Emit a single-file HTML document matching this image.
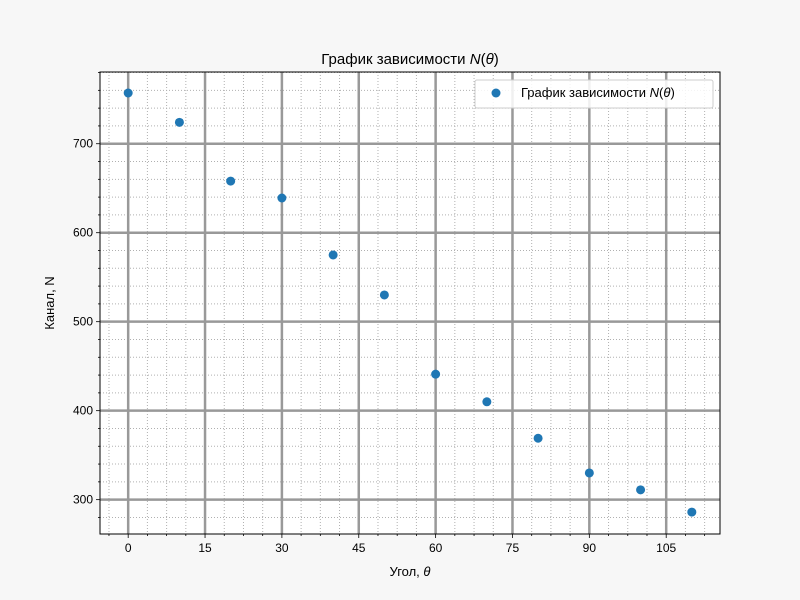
<!DOCTYPE html>
<html><head><meta charset="utf-8"><style>
body{margin:0;background:#f7f7f7;}
svg{display:block;font-family:"Liberation Sans","DejaVu Sans",sans-serif;}
</style></head><body>
<svg id="c" width="800" height="600">
<rect width="800" height="600" fill="#f7f7f7"/>
<rect x="100" y="72" width="620" height="462" fill="#fff"/>
<g id="g"></g>
</svg>
<script>
const angles=[0,10,20,30,40,50,60,70,80,90,100,110];
const channels=[757,724,658,639,575,530,441,410,369,330,311,286];
const xTicks=[0,15,30,45,60,75,90,105];
const yTicks=[300,400,500,600,700];
const L=100,R=720,T=72,B=534,xmin=-5.5,xmax=115.5,ymin=261.4,ymax=780.6;
const X=v=>L+(v-xmin)/(xmax-xmin)*(R-L);
const Y=v=>B-(v-ymin)/(ymax-ymin)*(B-T);
const g=document.getElementById('g');
const NS='http://www.w3.org/2000/svg';
function el(t,a,p){const e=document.createElementNS(NS,t);for(const k in a)e.setAttribute(k,a[k]);(p||g).appendChild(e);return e;}
// minor grid
for(let v=-3.75;v<=115.5;v+=3.75){if(Math.abs(v/15-Math.round(v/15))<1e-6)continue;if(v<xmin)continue;
const e=el('line',{x1:X(v),x2:X(v),y1:T,y2:B,stroke:'#b0b0b0','stroke-width':1,'stroke-dasharray':'1,2'});

el('line',{x1:X(v),x2:X(v),y1:B,y2:B+2,stroke:'#000','stroke-width':0.8});}
for(let v=280;v<=780;v+=20){if(v%100===0)continue;
const e=el('line',{x1:L,x2:R,y1:Y(v),y2:Y(v),stroke:'#b0b0b0','stroke-width':1,'stroke-dasharray':'1,2'});

el('line',{x1:L-2,x2:L,y1:Y(v),y2:Y(v),stroke:'#000','stroke-width':0.8});}
// major grid
xTicks.forEach(v=>{const e=el('line',{x1:X(v),x2:X(v),y1:T,y2:B,stroke:'#999','stroke-width':2.5});

el('line',{x1:X(v),x2:X(v),y1:B,y2:B+4,stroke:'#000','stroke-width':0.8});
const t=el('text',{x:X(v),y:B+18,'text-anchor':'middle','font-size':12});t.textContent=v;
});
yTicks.forEach(v=>{const e=el('line',{x1:L,x2:R,y1:Y(v),y2:Y(v),stroke:'#999','stroke-width':2.5});

el('line',{x1:L-4,x2:L,y1:Y(v),y2:Y(v),stroke:'#000','stroke-width':0.8});
const t=el('text',{x:L-7,y:Y(v)+4,'text-anchor':'end','font-size':12});t.textContent=v;
});
// points
angles.forEach((a,i)=>{const c=el('circle',{cx:X(a),cy:Y(channels[i]),r:4.5,fill:'#1f77b4'});
});
const fr=el('rect',{x:L,y:T,width:R-L,height:B-T,fill:'none',stroke:'#000','stroke-width':1});

</script>
<svg style="position:absolute;left:0;top:0" width="800" height="600">
<text x="410" y="64" text-anchor="middle" font-size="15" font-family="Liberation Sans, DejaVu Sans, sans-serif">График зависимости <tspan font-style="italic">N</tspan>(<tspan font-style="italic">θ</tspan>)</text>
<text x="410" y="576" text-anchor="middle" font-size="13" font-family="Liberation Sans, DejaVu Sans, sans-serif">Угол, <tspan font-style="italic">θ</tspan></text>
<text x="54" y="303" text-anchor="middle" font-size="13" transform="rotate(-90 54 303)" font-family="Liberation Sans, DejaVu Sans, sans-serif">Канал, N</text>
<g>
<rect x="475" y="80" width="238" height="28" rx="2" fill="#fff" fill-opacity="0.85" stroke="#ccc"/>
<circle cx="496" cy="93" r="4.5" fill="#1f77b4"/>
<text x="521" y="97" font-size="13" font-family="Liberation Sans, DejaVu Sans, sans-serif">График зависимости <tspan font-style="italic">N</tspan>(<tspan font-style="italic">θ</tspan>)</text>
</g>
</svg>
</body></html>
